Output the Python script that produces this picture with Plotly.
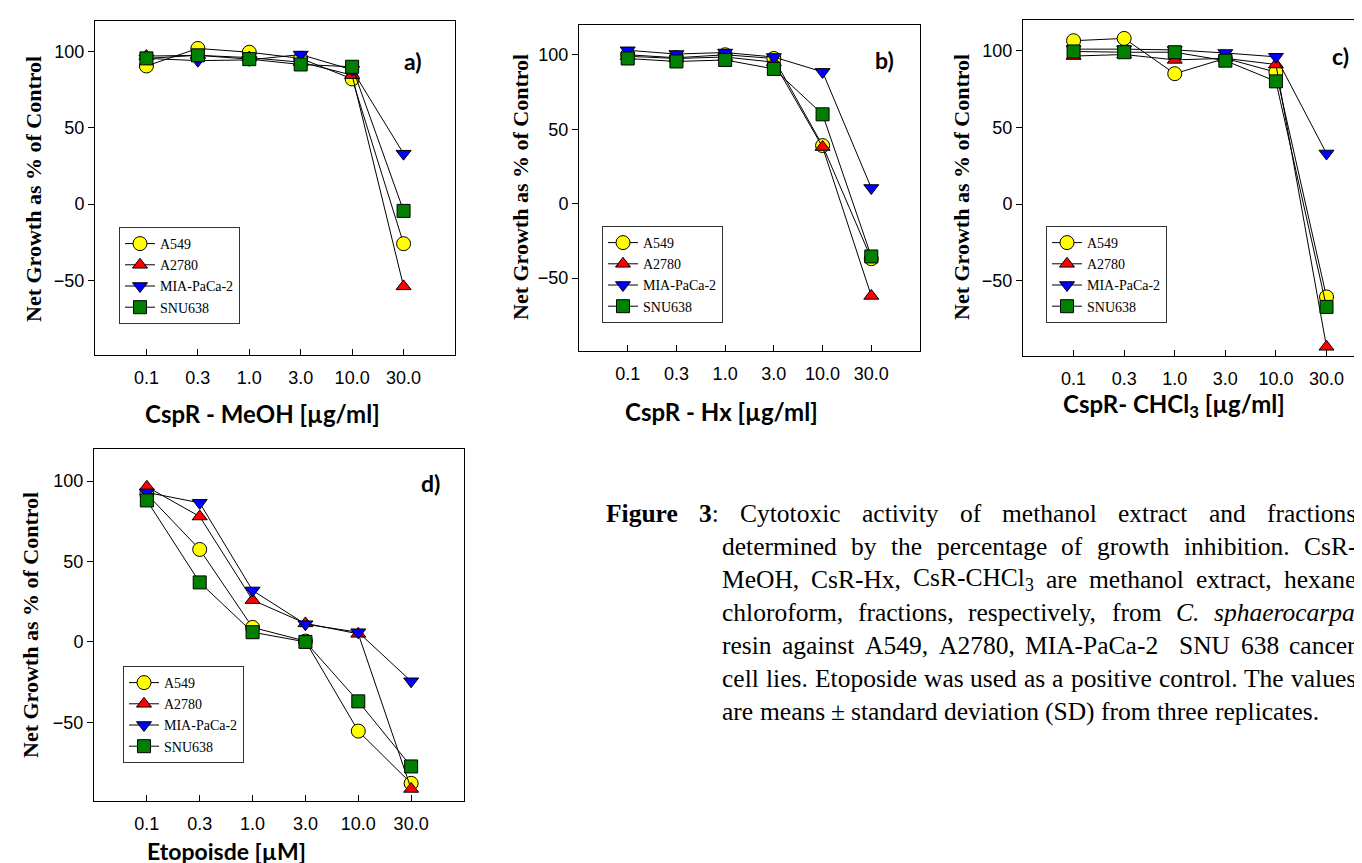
import re
import plotly.graph_objects as go

W, H = 1362, 863

def px(x):
    return x / W

def py(y):
    return 1 - y / H

# ---------------- data ----------------
conc_labels = ["0.1", "0.3", "1.0", "3.0", "10.0", "30.0"]
cell_lines = ["A549", "A2780", "MIA-PaCa-2", "SNU638"]

a_A549 = [90.5, 102, 99.5, 95.5, 82, -26]
a_A2780 = [97, 97.5, 96, 93, 84.5, -54]
a_MIA = [95.5, 94, 94.5, 98, 88, 33]
a_SNU = [95.5, 97.5, 95, 91.5, 90, -4.5]

b_A549 = [100, 98, 100, 97.5, 39, -37]
b_A2780 = [99, 97.5, 98.5, 95, 38, -62]
b_MIA = [103, 100.5, 101.5, 98.5, 88.5, 10.5]
b_SNU = [97.5, 95.5, 96.5, 90.5, 60, -35.5]

c_A549 = [106.5, 108, 85, 95, 86, -60.5]
c_A2780 = [96.5, 97.5, 94, 95, 91, -93]
c_MIA = [101, 101, 100.5, 98.5, 96, 33]
c_SNU = [99.5, 99, 99, 93.5, 80, -67]

d_A549 = [92, 57.5, 9, 0.5, -55.5, -88]
d_A2780 = [96.5, 78, 26, 11.5, 5, -91.5]
d_MIA = [93, 86.5, 32, 11, 6, -24.5]
d_SNU = [88, 37, 6, 0, -37, -77.5]

y_ticks = [-50, 0, 50, 100]

x_titles = ["CspR - MeOH [µg/ml]", "CspR - Hx [µg/ml]",
            "CspR- CHCl<sub>3</sub> [µg/ml]", "Etopoisde [µM]"]
panel_labels = ["a)", "b)", "c)", "d)"]
y_title = "Net Growth as % of Control"

caption_lines = [
    ["<b>Figure</b>", "<b>3</b>:", "Cytotoxic", "activity", "of", "methanol", "extract", "and", "fractions"],
    ["determined", "by", "the", "percentage", "of", "growth", "inhibition.", "CsR-"],
    ["MeOH,", "CsR-Hx,", "CsR-CHCl<sub>3</sub>", "are", "methanol", "extract,", "hexane"],
    ["chloroform,", "fractions,", "respectively,", "from", "<i>C.</i>", "<i>sphaerocarpa</i>"],
    ["resin", "against", "A549,", "A2780,", "MIA-PaCa-2", "", "SNU", "638", "cancer"],
    ["cell", "lies.", "Etoposide", "was", "used", "as", "a", "positive", "control.", "The", "values"],
    ["are", "means", "±", "standard", "deviation", "(SD)", "from", "three", "replicates."],
]

# ---------------- styles / layout ----------------
styles = {
    "A549": dict(symbol="circle", color="#FFFF00", size=14),
    "A2780": dict(symbol="triangle-up", color="#FF0000", size=13),
    "MIA-PaCa-2": dict(symbol="triangle-down", color="#0000FF", size=13),
    "SNU638": dict(symbol="square", color="#008000", size=13),
}

panels = [
    dict(series=[a_A549, a_A2780, a_MIA, a_SNU], dx=(87, 447), dy=(13, 347), xr=[-1, 6],
         ytp=(25, 181), xtp=(254, 405), lp=(405, 53), leg=(111, 219), mirror_y=True, xts=24),
    dict(series=[b_A549, b_A2780, b_MIA, b_SNU], dx=(571, 912), dy=(17, 343), xr=[-1, 6],
         ytp=(512, 179), xtp=(713, 403), lp=(876, 52), leg=(594, 218), mirror_y=True, xts=24),
    dict(series=[c_A549, c_A2780, c_MIA, c_SNU], dx=(1015, 1362), dy=(12, 348), xr=[-1, 5.86],
         ytp=(953, 179), xtp=(1166, 397), lp=(1332, 48), leg=(1038, 218), mirror_y=False, xts=24),
    dict(series=[d_A549, d_A2780, d_MIA, d_SNU], dx=(86, 456), dy=(441, 793), xr=[-1, 6],
         ytp=(22, 617), xtp=(218, 843), lp=(422, 475), leg=(115, 658), mirror_y=True, xts=23),
]

SERIF = "Liberation Serif"
SANS = "Liberation Sans"
CAL = "Lato"

fig = go.Figure()
annotations = []
layout = dict(
    width=W, height=H, margin=dict(l=0, r=0, t=0, b=0),
    paper_bgcolor="white", plot_bgcolor="white", showlegend=True,
)

for k, p in enumerate(panels, start=1):
    sx = "" if k == 1 else str(k)
    legname = "legend" if k == 1 else f"legend{k}"
    for name, vals in zip(cell_lines, p["series"]):
        st = styles[name]
        fig.add_trace(go.Scatter(
            x=list(range(len(conc_labels))), y=vals, name=name,
            mode="lines+markers",
            line=dict(color="black", width=1),
            marker=dict(symbol=st["symbol"], color=st["color"], size=st["size"],
                        line=dict(color="black", width=1)),
            xaxis=f"x{sx}", yaxis=f"y{sx}", legend=legname, showlegend=True,
        ))
    layout[f"xaxis{sx}"] = dict(
        domain=[px(p["dx"][0]), px(p["dx"][1])], anchor=f"y{sx}",
        range=p["xr"], tickvals=list(range(len(conc_labels))), ticktext=conc_labels,
        ticks="inside", ticklen=6, tickcolor="black", showgrid=False, zeroline=False,
        showline=True, linecolor="black", linewidth=1, mirror=True,
        tickfont=dict(family=SANS, size=18, color="black"), ticklabelstandoff=6,
    )
    layout[f"yaxis{sx}"] = dict(
        domain=[py(p["dy"][1]), py(p["dy"][0])], anchor=f"x{sx}",
        range=[-99, 120], tickvals=y_ticks,
        ticks="outside", ticklen=6, tickcolor="black", showgrid=False, zeroline=False,
        showline=True, linecolor="black", linewidth=1, mirror=p["mirror_y"],
        tickfont=dict(family=SANS, size=18, color="black"),
    )
    layout[legname] = dict(
        x=px(p["leg"][0]), y=py(p["leg"][1]), xanchor="left", yanchor="top",
        xref="paper", yref="paper",
        bgcolor="white", bordercolor="#333333", borderwidth=1,
        font=dict(family=SERIF, size=14, color="black"),
        tracegroupgap=0, itemwidth=30,
    )
    annotations.append(dict(
        text=f"<b>{y_title}</b>", x=px(p["ytp"][0]), y=py(p["ytp"][1]),
        xref="paper", yref="paper", showarrow=False, textangle=-90,
        xanchor="center", yanchor="middle",
        font=dict(family=SERIF, size=22, color="black"),
    ))
    annotations.append(dict(
        text=f"<b>{x_titles[k-1]}</b>", x=px(p["xtp"][0]), y=py(p["xtp"][1]),
        xref="paper", yref="paper", showarrow=False,
        xanchor="center", yanchor="middle", borderpad=0,
        font=dict(family=CAL, size=p["xts"], color="black"),
    ))
    annotations.append(dict(
        text=f"<b>{panel_labels[k-1]}</b>", x=px(p["lp"][0]), y=py(p["lp"][1]),
        xref="paper", yref="paper", showarrow=False,
        xanchor="center", yanchor="middle",
        font=dict(family=CAL, size=23, color="black"),
    ))

# ---------------- justified caption ----------------
REG = {' ': 250, '!': 333, '(': 333, ')': 333, ',': 250, '-': 333, '.': 250, ':': 278, '±': 549,
       'A': 722, 'C': 667, 'D': 722, 'E': 611, 'F': 556, 'H': 722, 'I': 333, 'M': 889, 'N': 722,
       'O': 722, 'P': 556, 'R': 667, 'S': 556, 'T': 611, 'U': 722,
       'a': 444, 'b': 500, 'c': 444, 'd': 500, 'e': 444, 'f': 333, 'g': 500, 'h': 500, 'i': 278,
       'l': 278, 'm': 778, 'n': 500, 'o': 500, 'p': 500, 'r': 333, 's': 389, 't': 278, 'u': 500,
       'v': 500, 'w': 722, 'x': 500, 'y': 500}
for dch in "0123456789":
    REG[dch] = 500
BOLD = {'F': 611, 'i': 278, 'g': 500, 'u': 556, 'r': 444, 'e': 444, '3': 500}
ITAL = {'C': 667, '.': 250, 's': 389, 'p': 500, 'h': 500, 'a': 500, 'e': 444, 'r': 389,
        'o': 500, 'c': 444}

CAP_SIZE = 25.5

def word_width(word, size):
    bold = ital = sub = False
    total = 0.0
    for part in re.split(r'(</?(?:b|i|sub)>)', word):
        if part in ("<b>", "</b>"):
            bold = part == "<b>"
            continue
        if part in ("<i>", "</i>"):
            ital = part == "<i>"
            continue
        if part in ("<sub>", "</sub>"):
            sub = part == "<sub>"
            continue
        for ch in part:
            tbl = BOLD if bold else (ITAL if ital else REG)
            w = tbl.get(ch, REG.get(ch, 500))
            total += w * (0.7 if sub else 1.0)
    return total / 1000.0 * size

cap_left_first, cap_left, cap_right = 597, 713, 1347
cap_y0, cap_dy = 505, 33
for li, words in enumerate(caption_lines):
    x0 = cap_left_first if li == 0 else cap_left
    widths = [word_width(w, CAP_SIZE) for w in words]
    ngaps = len(words) - 1
    if li == len(caption_lines) - 1:
        gap = 0.25 * CAP_SIZE
    else:
        gap = (cap_right - x0 - sum(widths)) / ngaps
    x = x0
    for w, wd in zip(words, widths):
        if w:
            annotations.append(dict(
                text=w, x=px(x), y=py(cap_y0 + li * cap_dy), xref="paper", yref="paper",
                showarrow=False, xanchor="left", yanchor="middle", borderpad=0,
                font=dict(family=SERIF, size=CAP_SIZE, color="black"),
            ))
        x += wd + gap

layout["annotations"] = annotations
fig.update_layout(**layout)
fig.write_html("out.html")
